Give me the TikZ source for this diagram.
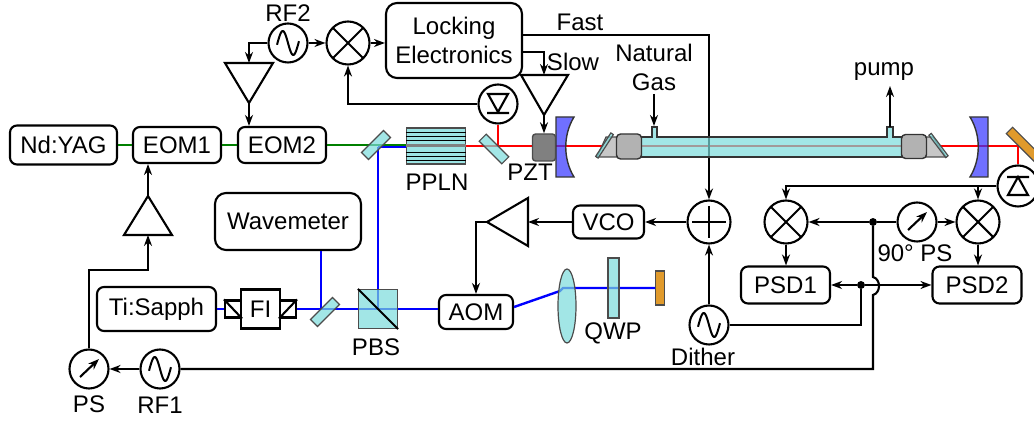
\documentclass[tikz,border=0pt]{standalone}
\usepackage{fontspec}
\setmainfont{Liberation Sans}
\usetikzlibrary{arrows.meta, shapes.geometric}

\definecolor{plateteal}{HTML}{7BDBDB}
\definecolor{mirrorblue}{HTML}{3333FF}
\definecolor{blockgold}{HTML}{E09A2C}

\tikzset{
  wire/.style={line width=1.05pt},
  greenbeam/.style={line width=1.2pt, draw={rgb,255:red,0;green,128;blue,0}},
  bluebeam/.style={line width=1.2pt, draw={rgb,255:red,0;green,0;blue,255}},
  redbeam/.style={line width=1.2pt, draw=red},
  devbox/.style={draw, line width=1.05pt, rounded corners=3.5pt, inner sep=0pt, align=center},
  bigbox/.style={devbox, rounded corners=5.5pt},
  isobox/.style={draw, line width=1.05pt, inner sep=0pt, minimum width=8pt, minimum height=8.5pt},
  plate/.style={draw=black!70, line width=0.6pt, fill=plateteal, fill opacity=0.7, inner sep=0pt},
  label/.style={inner sep=0pt},
  ring/.style={draw, circle, line width=1.05pt, inner sep=0pt, minimum size=19.5pt},
  bigring/.style={ring, minimum size=21.5pt},
  sine/.style={ring, path picture={
    \draw[line width=1pt, shift={(path picture bounding box.center)}]
      plot[smooth, samples=30, domain=-11:11] (\x, {12*sin(\x*180/10.5)});}},
  mixer/.style={bigring, path picture={
    \draw[line width=1.05pt] (path picture bounding box.south west) -- (path picture bounding box.north east)
      (path picture bounding box.north west) -- (path picture bounding box.south east);}},
  adder/.style={bigring, path picture={
    \draw[line width=1.05pt, shift={(path picture bounding box.center)}] (0, -16) -- (0, 16) (-17, 0) -- (17, 0);}},
  phase/.style={ring, path picture={
    \draw[line width=1.05pt, ->, shift={(path picture bounding box.center)}] (-9, 8) -- (10, -10);}},
  detdown/.style={ring, path picture={
    \draw[line width=1.05pt, shift={(path picture bounding box.center)}]
      (-10, -10) -- (10, -10) -- (0, 8) -- cycle (-11, 9) -- (11, 9);}},
  detup/.style={ring, minimum size=20.5pt, path picture={
    \draw[line width=1.05pt, shift={(path picture bounding box.center)}]
      (-11, -9) -- (11, -9) (0, -9) -- (-10, 9) -- (10, 9) -- cycle;}},
  dot/.style={draw, fill, circle, inner sep=0pt, minimum size=3.5pt}
}

\begin{document}
\begin{tikzpicture}[x=0.5pt, y=-0.5pt, >={Stealth[length=5.5pt, width=4pt]},
    every node/.style={font=\fontsize{12}{14.5}\selectfont}]
  \useasboundingbox (0, 0) rectangle (1034, 421);

  % Lasers and modulators
  \node[devbox, minimum width=53.5pt, minimum height=19.5pt] (yag) at (63.5, 145) {Nd:YAG};
  \node[devbox, minimum width=44pt, minimum height=18pt] (eomA) at (177, 145) {EOM1};
  \node[devbox, minimum width=44pt, minimum height=18pt] (eomB) at (282, 145) {EOM2};
  \node[devbox, minimum width=59.5pt, minimum height=22pt] (tisa) at (156.5, 309) {Ti:Sapph};
  \node[draw, line width=1.05pt, inner sep=0pt, minimum width=19.5pt, minimum height=19.5pt] (fi) at (260.5, 309) {FI};
  \node[isobox] (isoL) at (233, 309) {};
  \node[isobox] (isoR) at (288, 309) {};
  \draw[wire] (isoL.north west) -- (isoL.south east);
  \draw[wire] (isoR.south west) -- (isoR.north east);
  \node[devbox, minimum width=37pt, minimum height=17pt] (aom) at (476, 312) {AOM};
  \node[devbox, minimum width=35.5pt, minimum height=16.5pt] (vco) at (608.5, 222) {VCO};
  \node[bigbox, minimum width=73pt, minimum height=28.5pt] (wave) at (288, 221.5) {Wavemeter};
  \node[bigbox, minimum width=68pt, minimum height=37.5pt] (lock) at (454, 40.5) {Locking\\Electronics};
  \node[devbox, minimum width=44.5pt, minimum height=18.5pt] (psdA) at (785.5, 285) {PSD1};
  \node[devbox, minimum width=44.5pt, minimum height=18.5pt] (psdB) at (977, 285) {PSD2};

  % Optical crystal and blocks
  \node[draw=black!70, line width=0.6pt, fill=plateteal!75, inner sep=0pt, minimum width=29.5pt, minimum height=18pt] (ppln) at (436, 146) {};
  \node[draw=black!70, line width=0.6pt, fill=blockgold, inner sep=0pt, minimum width=4.5pt, minimum height=17pt] (dump) at (660, 288) {};
  \coordinate (bsAC) at (378, 147);
  \coordinate (pbsC) at (378, 309);
  \coordinate (bsCC) at (321, 309);
  \coordinate (bsBC) at (498, 146);
  \coordinate (turn) at (1018, 146);
  \coordinate (lensIn) at (563, 288);

  % Rings
  \node[sine] (rfB) at (288, 43) {};
  \node[mixer] (mixT) at (348, 43) {};
  \node[detdown] (detA) at (498, 104) {};
  \node[detup] (detB) at (1018, 186) {};
  \node[adder] (sum) at (709, 222) {};
  \node[sine] (dith) at (709, 325) {};
  \node[mixer] (mixA) at (786, 222) {};
  \node[mixer] (mixB) at (978, 222) {};
  \node[phase] (psN) at (917, 222) {};
  \node[phase] (psM) at (89, 369) {};
  \node[sine] (rfA) at (160, 369) {};
  \node[dot] (dotA) at (873, 222) {};
  \node[dot] (dotB) at (861, 285) {};

  % Beams
  \draw[greenbeam] (yag) -- (eomA);
  \draw[greenbeam] (eomA) -- (eomB);
  \draw[greenbeam] (eomB) -- (ppln.west |- eomB);
  \draw[bluebeam] (bsAC) -- (ppln.west |- bsAC);
  \draw[bluebeam] (bsAC) -- (pbsC);
  \draw[bluebeam] (tisa) -- (isoL);
  \draw[bluebeam] (isoR) -- (aom.west |- isoR);
  \draw[bluebeam] (wave.south -| bsCC) -- (bsCC);
  \draw[bluebeam] (aom.east |- 0, 307) -- (560, 291) -- (lensIn) -- (dump.west);
  \draw[redbeam] (ppln.east) -- (turn) -- (detB);
  \draw[redbeam] (detA) -- (bsBC);

  % Amplifiers
  \coordinate (ampAIn) at (249, 63);
  \coordinate (ampAOut) at (249, 103);
  \draw[wire] (225, 63) -- (273, 63) -- (ampAOut) -- cycle;
  \coordinate (ampBIn) at (544, 75);
  \coordinate (ampBOut) at (544, 115);
  \draw[wire] (521, 75) -- (568, 75) -- (ampBOut) -- cycle;
  \coordinate (ampCIn) at (148, 235);
  \coordinate (ampCOut) at (148, 196);
  \draw[wire] (124, 235) -- (172, 235) -- (ampCOut) -- cycle;
  \coordinate (ampDIn) at (528, 222);
  \coordinate (ampDOut) at (487, 222);
  \draw[wire] (528, 198) -- (528, 246) -- (ampDOut) -- cycle;

  % Signal lines
  \coordinate (fastOut) at (522, 35);
  \coordinate (slowOut) at (522, 52);
  \coordinate (hopTop) at (873, 277);
  \coordinate (hopBot) at (873, 295);
  \coordinate (ampCBend) at (89, 270);
  \draw[wire, ->] (rfB) -| (ampAIn);
  \draw[wire, ->] (ampAOut) -- (ampAOut |- eomB.north);
  \draw[wire, ->] (rfB) -- (mixT);
  \draw[wire, ->] (mixT) -- (lock.west |- mixT);
  \draw[wire, ->] (detA) -| (mixT);
  \draw[wire, ->] (slowOut) -| (ampBIn);
  \draw[wire, ->] (ampCOut) -- (ampCOut |- eomA.south);
  \draw[wire, ->] (psM) |- (ampCBend -| ampCIn) -- (ampCIn);
  \draw[wire, ->] (rfA) -- (psM);
  \draw[wire, ->] (sum) -- (vco);
  \draw[wire, ->] (vco) -- (ampDIn);
  \draw[wire, ->] (ampDOut) -| (aom);
  \draw[wire, ->] (dith) -- (sum);
  \draw[wire] (dith) -| (dotB);
  \draw[wire, ->] (dotB) -- (psdA);
  \draw[wire, ->] (dotB) -- (psdB);
  \draw[wire, ->] (dotA) -- (mixA);
  \draw[wire] (dotA) -- (psN);
  \draw[wire, ->] (psN) -- (mixB);
  \draw[wire, ->] (mixA) -- (mixA |- psdA.north);
  \draw[wire, ->] (mixB) -- (mixB |- psdB.north);
  \draw[wire, ->] (detB) -| (mixA);
  \draw[wire, ->] (mixB |- detB) -- (mixB);
  \draw[wire] (dotA) -- (hopTop) .. controls (881, 279) and (881, 293) .. (hopBot) |- (rfA);
  \draw[wire, ->] (fastOut) -| (sum);

  % PPLN stripes
  \draw[line width=0.45pt] (ppln.west |- 0, 132) -- (ppln.east |- 0, 132)
    (ppln.west |- 0, 136) -- (ppln.east |- 0, 136)
    (ppln.west |- 0, 140) -- (ppln.east |- 0, 140)
    (ppln.west |- 0, 152) -- (ppln.east |- 0, 152)
    (ppln.west |- 0, 156) -- (ppln.east |- 0, 156)
    (ppln.west |- 0, 160) -- (ppln.east |- 0, 160);
  \draw[line width=1.5pt, draw=black!50] (ppln.west) -- (ppln.east);

  % Plates and lens
  \node[plate, minimum width=15.5pt, minimum height=5pt, rotate=45] (bsA) at (376, 145) {};
  \node[plate, minimum width=16pt, minimum height=5pt, rotate=-45] (bsB) at (494, 149) {};
  \node[plate, minimum width=15.5pt, minimum height=5pt, rotate=45] (bsC) at (325, 312) {};
  \node[plate, minimum width=19.5pt, minimum height=19.5pt] (pbs) at (378, 309) {};
  \draw[wire] (pbs.north west) -- (pbs.south east);
  \node[plate, ellipse, minimum width=9pt, minimum height=37pt] (lens) at (567, 306) {};
  \node[plate, minimum width=5.5pt, minimum height=30pt] (qwp) at (613.5, 288) {};

  % Cavity mirrors
  \draw[draw=black!80, line width=0.7pt, fill=mirrorblue, fill opacity=0.7]
     (556, 117) -- (574, 117) .. controls (563, 135) and (563, 159) .. (574, 177) -- (556, 177) -- cycle;
  \draw[draw=black!80, line width=0.7pt, fill=mirrorblue, fill opacity=0.7]
     (988, 117) -- (970, 117) .. controls (981, 135) and (981, 159) .. (970, 177) -- (988, 177) -- cycle;
  \node[draw=black!70, line width=0.7pt, fill=black!50, rounded corners=1.5pt, inner sep=0pt, minimum width=11.5pt, minimum height=13.5pt] (pzt) at (544, 147.5) {};
  \draw[wire, ->] (ampBOut) -- (pzt);
  \node[draw=black!70, line width=0.6pt, fill=blockgold, inner sep=0pt, minimum width=22pt, minimum height=4.5pt, rotate=-45] (fold) at (1025, 146) {};

  % Gas cell
  \draw[draw=black!70, line width=0.6pt, fill=black!22] (606, 137) -- (617, 137) -- (617, 157) -- (597, 157) -- cycle;
  \draw[draw=black!70, line width=0.6pt, fill=black!22] (926, 137) -- (933, 137) -- (946, 157) -- (926, 157) -- cycle;
  \draw[draw=black!80, line width=0.7pt, fill=plateteal, fill opacity=0.7]
     (641, 137) -- (652, 137) -- (652, 127) -- (657, 127) -- (657, 137) -- (887, 137) -- (887, 127) -- (893, 127) -- (893, 137)
     -- (902, 137) -- (902, 157) -- (641, 157) -- cycle;
  \node[draw=black!80, line width=0.7pt, fill=black!30, rounded corners=2pt, inner sep=0pt, minimum width=12.5pt, minimum height=12.5pt] (capL) at (629, 146.5) {};
  \node[draw=black!80, line width=0.7pt, fill=black!30, rounded corners=2pt, inner sep=0pt, minimum width=12.5pt, minimum height=12pt] (capR) at (914, 146.5) {};
  \node[plate, minimum width=14pt, minimum height=1.5pt, rotate=57] (winL) at (604.5, 145.5) {};
  \node[plate, minimum width=14pt, minimum height=1.5pt, rotate=-53] (winR) at (938.5, 145.5) {};
  \coordinate (gasIn) at (654, 94);
  \coordinate (gasPort) at (654, 126);
  \coordinate (pumpPort) at (890, 127);
  \coordinate (pumpOut) at (890, 86);
  \draw[wire, ->] (gasIn) -- (gasPort);
  \draw[wire, ->] (pumpPort) -- (pumpOut);

  % Labels
  \node[label] (lblRFB) at (288, 13) {RF2};
  \node[label] (lblFast) at (580, 22) {Fast};
  \node[label] (lblSlow) at (573, 62) {Slow};
  \node[label, align=center] (lblGas) at (654, 67) {Natural\\Gas};
  \node[label] (lblPump) at (884, 72) {pump};
  \node[label] (lblPPLN) at (437, 182) {PPLN};
  \node[label] (lblPZT) at (530, 172) {PZT};
  \node[label] (lblPBS) at (376, 347) {PBS};
  \node[label] (lblQWP) at (613, 333) {QWP};
  \node[label] (lblDith) at (703, 357) {Dither};
  \node[label] (lblPSN) at (915, 253) {90° PS};
  \node[label] (lblPS) at (89, 404) {PS};
  \node[label] (lblRFA) at (160, 405) {RF1};
\end{tikzpicture}
\end{document}
